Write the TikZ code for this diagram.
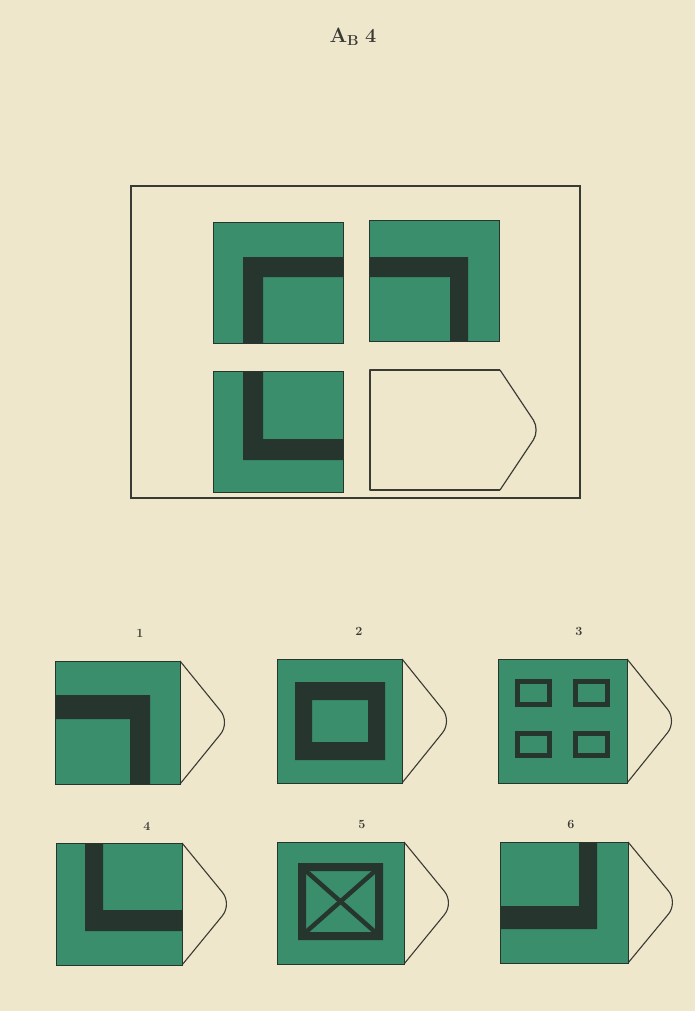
\documentclass[tikz,border=0pt]{standalone}
\usetikzlibrary{calc}
\definecolor{paper}{HTML}{EFE7CC}
\definecolor{tilegreen}{HTML}{3A8E6C}
\definecolor{band}{HTML}{26362F}
\definecolor{ink}{HTML}{3A3A34}
\tikzset{
  tile/.style={fill=tilegreen, draw=band, line width=0.8pt},
  bandfill/.style={fill=band, draw=none},
  tipline/.style={draw=ink, line width=1.1pt, rounded corners=15pt, line join=round},
  outline/.style={draw=ink, line width=1.2pt},
  frameline/.style={draw=ink, line width=1.4pt},
  numlabel/.style={font=\bfseries\fontsize{12.5}{12.5}\selectfont, text=ink, inner sep=0pt},
  smallrect/.style={draw=band, line width=5pt},
  crossline/.style={draw=band, line width=4.5pt}
}
% option tile: x, y, right x, bottom y
\newcommand\opttile[4]{%
  \draw[tipline] (#3,#2) -- ($(#3,#2)!0.5!(#3,#4)+(50,0)$) -- (#3,#4);
  \path[tile] (#1,#2) rectangle (#3,#4);
}
\begin{document}
\begin{tikzpicture}[x=1pt,y=-1pt]
\useasboundingbox (0,0) rectangle (695,1011);
\fill[paper] (0,0) rectangle (695,1011);

% title
\node[text=ink, inner sep=0pt] (title) at (353,37) {\fontsize{20}{20}\selectfont$\mathbf{A}_{\mathbf{B}}$\ \textbf{4}};

% frame
\draw[frameline] (131,186) rectangle (580,498);

% matrix tiles
\path[tile] (213,222) rectangle (343,343);
\fill[bandfill] (243,257) -- (343,257) -- (343,277) -- (263,277) -- (263,343) -- (243,343) -- cycle;
\path[tile] (369,220) rectangle (499,341);
\fill[bandfill] (369,257) -- (468,257) -- (468,341) -- (450,341) -- (450,277) -- (369,277) -- cycle;
\path[tile] (213,371) rectangle (343,492);
\fill[bandfill] (243,371) -- (263,371) -- (263,439) -- (343,439) -- (343,460) -- (243,460) -- cycle;
\draw[outline, line join=round] (500,370) -- (370,370) -- (370,490) -- (500,490);
\draw[outline, rounded corners=12pt, line join=round] (500,370) -- (540,430) -- (500,490);

% labels
\node[numlabel] (l1) at (140,633) {1};
\node[numlabel] (l2) at (359,631) {2};
\node[numlabel] (l3) at (579,631) {3};
\node[numlabel] (l4) at (147,826) {4};
\node[numlabel] (l5) at (362,824) {5};
\node[numlabel] (l6) at (571,824) {6};

% option 1
\opttile{55}{661}{180}{784}
\fill[bandfill] (55,695) -- (150,695) -- (150,784) -- (130,784) -- (130,719) -- (55,719) -- cycle;
% option 2
\opttile{277}{659}{402}{783}
\fill[bandfill, even odd rule] (295,682) rectangle (385,760) (312,700) rectangle (368,742);
% option 3
\opttile{498}{659}{627}{783}
\draw[smallrect] (517.5,681.5) rectangle (549.5,704.5);
\draw[smallrect] (575.5,681.5) rectangle (607.5,704.5);
\draw[smallrect] (517.5,733.5) rectangle (549.5,755.5);
\draw[smallrect] (575.5,733.5) rectangle (607.5,755.5);
% option 4
\opttile{56}{843}{182}{965}
\fill[bandfill] (85,843) -- (103,843) -- (103,910) -- (182,910) -- (182,931) -- (85,931) -- cycle;
% option 5
\opttile{277}{842}{404}{964}
\fill[bandfill, even odd rule] (298,863) rectangle (383,940) (306,871) rectangle (375,932);
\draw[crossline] (306,871) -- (375,932);
\draw[crossline] (306,932) -- (375,871);
% option 6
\opttile{500}{842}{628}{963}
\fill[bandfill] (579,842) -- (597,842) -- (597,929) -- (500,929) -- (500,906) -- (579,906) -- cycle;
\end{tikzpicture}
\end{document}
